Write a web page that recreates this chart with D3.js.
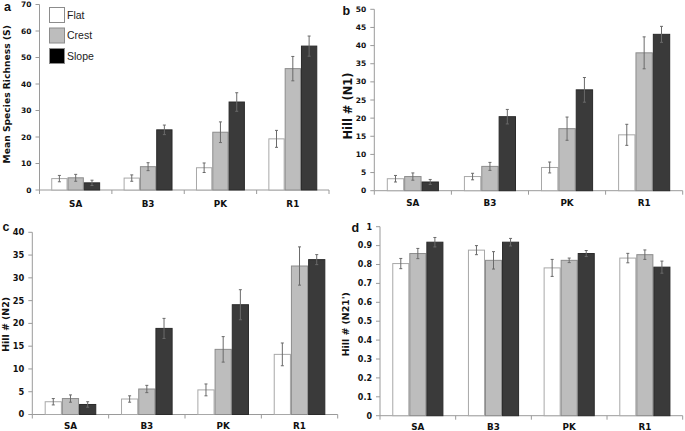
<!DOCTYPE html>
<html><head><meta charset="utf-8">
<script src="https://cdn.jsdelivr.net/npm/d3@7"></script>
<style>body{margin:0;background:#fff}svg{display:block}</style>
</head><body>
<svg id="c" width="685" height="431"></svg>
<script>
const categories = ["SA","B3","PK","R1"];
const series = ["Flat","Crest","Slope"];

// panel a: Mean Species Richness (S)
const aFlat = [4.3, 4.5, 8.4, 19.3];
const aCrest = [4.6, 8.8, 21.8, 45.8];
const aSlope = [2.7, 22.7, 33.2, 54.3];
const aFlatErr = [1.2, 1.2, 1.8, 3.2];
const aCrestErr = [1.3, 1.5, 3.9, 4.6];
const aSlopeErr = [1.0, 1.8, 3.5, 3.8];

// panel b: Hill # (N1)
const bFlat = [3.3, 3.9, 6.4, 15.4];
const bCrest = [3.9, 6.7, 17.1, 38.0];
const bSlope = [2.4, 20.4, 27.8, 43.1];
const bFlatErr = [0.9, 0.9, 1.5, 2.9];
const bCrestErr = [1.0, 1.1, 3.2, 4.4];
const bSlopeErr = [0.7, 2.0, 3.4, 2.2];

// panel c: Hill # (N2)
const cFlat = [2.8, 3.4, 5.4, 13.2];
const cCrest = [3.5, 5.6, 14.3, 32.6];
const cSlope = [2.2, 18.9, 24.1, 34.0];
const cFlatErr = [0.7, 0.7, 1.3, 2.5];
const cCrestErr = [0.8, 0.8, 2.8, 4.2];
const cSlopeErr = [0.6, 2.2, 3.3, 1.1];

// panel d: Hill # (N21')
const dFlat = [0.805, 0.876, 0.782, 0.834];
const dCrest = [0.858, 0.822, 0.822, 0.852];
const dSlope = [0.918, 0.918, 0.858, 0.786];
const dFlatErr = [0.027, 0.024, 0.045, 0.025];
const dCrestErr = [0.027, 0.046, 0.012, 0.025];
const dSlopeErr = [0.025, 0.02, 0.016, 0.032];

const yTicksA = [0,10,20,30,40,50,60,70];
const yTicksB = [0,5,10,15,20,25,30,35,40,45,50];
const yTicksC = [0,5,10,15,20,25,30,35,40];
const yTicksD = [0,0.1,0.2,0.3,0.4,0.5,0.6,0.7,0.8,0.9,1];

const fills = {Flat:"#ffffff", Crest:"#bdbdbd", Slope:"#3a3a3a"};
const strokes = {Flat:"#a8a8a8", Crest:"#8c8c8c", Slope:"#2a2a2a"};
const legendFills = {Flat:"#ffffff", Crest:"#bdbdbd", Slope:"#000000"};

const panels = [
  {letter:"a", title:"Mean Species Richness (S)", vals:[aFlat,aCrest,aSlope], errs:[aFlatErr,aCrestErr,aSlopeErr],
   ticks:yTicksA, max:70, x0:39.5, x1:329, y0:190, y1:4.5, titleX:6.5, titleYOff:-3, titleSize:9.2, tickSize:7.5, catOff:16.5,
   letterX:4, letterY:10.5, fmt:d=>d, legend:true},
  {letter:"b", title:"Hill # (N1)", vals:[bFlat,bCrest,bSlope], errs:[bFlatErr,bCrestErr,bSlopeErr],
   ticks:yTicksB, max:50, x0:374.3, x1:682.7, y0:190.7, y1:9.3, titleX:347.5, titleYOff:6, titleSize:11.5, tickSize:7.5, catOff:15.5,
   letterX:342.5, letterY:15, fmt:d=>d},
  {letter:"c", title:"Hill # (N2)", vals:[cFlat,cCrest,cSlope], errs:[cFlatErr,cCrestErr,cSlopeErr],
   ticks:yTicksC, max:40, x0:32.3, x1:337.7, y0:414.5, y1:232.3, titleX:6, titleYOff:1, titleSize:9.4, tickSize:8.3, catOff:14,
   letterX:2.5, letterY:231, fmt:d=>d},
  {letter:"d", title:"Hill # (N21')", vals:[dFlat,dCrest,dSlope], errs:[dFlatErr,dCrestErr,dSlopeErr],
   ticks:yTicksD, max:1, x0:380, x1:682.7, y0:415.7, y1:226.7, titleX:346, titleYOff:3, titleSize:9.4, tickSize:8, catOff:14.8,
   letterX:351.5, letterY:232, fmt:d=>d===0?"0":(d===1?"1":d3.format(".1f")(d))}
];

const svg = d3.select("#c");
const axisColor = "#9a9a9a";
const boldFont = "'DejaVu Sans', Verdana, sans-serif";

panels.forEach(p => {
  const g = svg.append("g");
  const x = d3.scaleBand().domain(categories).range([p.x0, p.x1]).padding(0);
  const xs = d3.scaleBand().domain(series).range([0, x.bandwidth()]).paddingInner(0).paddingOuter(0.72);
  const y = d3.scaleLinear().domain([0, p.max]).range([p.y0, p.y1]);

  // y axis
  g.append("line").attr("x1",p.x0).attr("x2",p.x0).attr("y1",p.y0).attr("y2",p.y1).attr("stroke",axisColor).attr("stroke-width",1);
  p.ticks.forEach(t => {
    g.append("line").attr("x1",p.x0-4).attr("x2",p.x0).attr("y1",y(t)).attr("y2",y(t)).attr("stroke",axisColor);
    g.append("text").attr("x",p.x0-8).attr("y",y(t)).attr("dy","0.35em").attr("text-anchor","end")
      .attr("font-family",boldFont).attr("font-weight","bold").attr("font-size",p.tickSize).attr("fill","#111").text(p.fmt(t));
  });
  // x axis
  g.append("line").attr("x1",p.x0).attr("x2",p.x1).attr("y1",p.y0).attr("y2",p.y0).attr("stroke",axisColor);
  const bounds = categories.map(c => x(c)).concat([p.x1]);
  bounds.forEach(b => {
    g.append("line").attr("x1",b).attr("x2",b).attr("y1",p.y0).attr("y2",p.y0+4).attr("stroke",axisColor);
  });
  categories.forEach(c => {
    g.append("text").attr("x",x(c)+x.bandwidth()/2).attr("y",Math.min(p.y0+p.catOff, 430)).attr("text-anchor","middle")
      .attr("font-family",boldFont).attr("font-weight","bold").attr("font-size",8.8).attr("fill","#111").text(c);
  });

  // bars
  series.forEach((s, si) => {
    categories.forEach((c, ci) => {
      const v = p.vals[si][ci], e = p.errs[si][ci];
      const bx = x(c) + xs(s), bw = xs.bandwidth();
      g.append("rect").attr("x",bx+0.5).attr("y",y(v)).attr("width",bw-1).attr("height",p.y0-y(v))
        .attr("fill",fills[s]).attr("stroke",strokes[s]).attr("stroke-width",1);
      const cx = bx + bw/2;
      g.append("line").attr("x1",cx).attr("x2",cx).attr("y1",y(v+e)).attr("y2",y(v-e)).attr("stroke","#6a6a6a").attr("stroke-width",1);
      [v+e, v-e].forEach(val => {
        g.append("line").attr("x1",cx-1.5).attr("x2",cx+1.5).attr("y1",y(val)).attr("y2",y(val)).attr("stroke","#6a6a6a").attr("stroke-width",1);
      });
    });
  });

  // y title
  const cy = (p.y0 + p.y1)/2 + p.titleYOff;
  g.append("text").attr("transform",`translate(${p.titleX},${cy}) rotate(-90)`).attr("text-anchor","middle")
    .attr("dy","0.35em").attr("font-family",boldFont).attr("font-weight","bold").attr("font-size",p.titleSize).attr("fill","#111").text(p.title);

  // panel letter
  g.append("text").attr("x",p.letterX).attr("y",p.letterY).attr("font-family","'Liberation Sans', Arial, sans-serif")
    .attr("font-weight","bold").attr("font-size",12.5).attr("fill","#111").text(p.letter);

  if (p.legend) {
    series.forEach((s, i) => {
      const ly = 7 + i*20.5;
      g.append("rect").attr("x",49.5).attr("y",ly+0.5).attr("width",15).attr("height",15)
        .attr("fill",legendFills[s]).attr("stroke","#8c8c8c");
      g.append("text").attr("x",67).attr("y",ly+8).attr("dy","0.35em").attr("font-family","'Liberation Sans', Arial, sans-serif")
        .attr("font-size",10.5).attr("fill","#222").text(s);
    });
  }
});
</script>
</body></html>
